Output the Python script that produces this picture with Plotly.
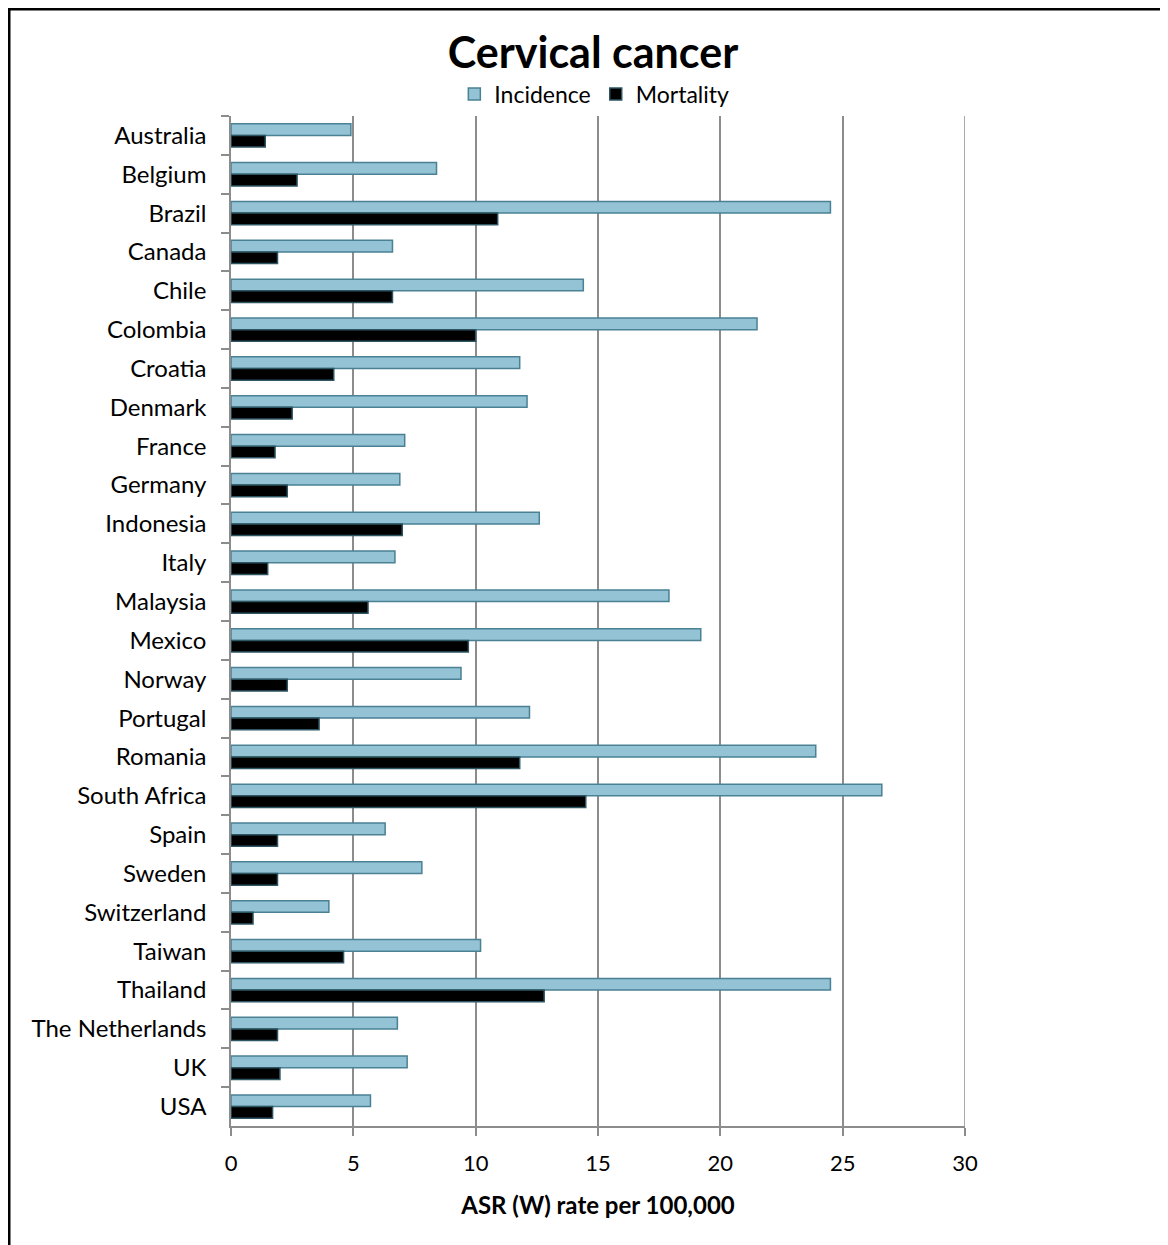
import plotly.graph_objects as go

countries = ["Australia", "Belgium", "Brazil", "Canada", "Chile", "Colombia", "Croatia",
             "Denmark", "France", "Germany", "Indonesia", "Italy", "Malaysia", "Mexico",
             "Norway", "Portugal", "Romania", "South Africa", "Spain", "Sweden",
             "Switzerland", "Taiwan", "Thailand", "The Netherlands", "UK", "USA"]
incidence = [4.9, 8.4, 24.5, 6.6, 14.4, 21.5, 11.8, 12.1, 7.1, 6.9, 12.6, 6.7, 17.9, 19.2,
             9.4, 12.2, 23.9, 26.6, 6.3, 7.8, 4.0, 10.2, 24.5, 6.8, 7.2, 5.7]
mortality = [1.4, 2.7, 10.9, 1.9, 6.6, 10.0, 4.2, 2.5, 1.8, 2.3, 7.0, 1.5, 5.6, 9.7,
             2.3, 3.6, 11.8, 14.5, 1.9, 1.9, 0.9, 4.6, 12.8, 1.9, 2.0, 1.7]
x_ticks = [0, 5, 10, 15, 20, 25, 30]

FONT = "Lato"
W, H = 1160, 1237
L, T, PW, PH = 223, 108, 734, 1010

fig = go.Figure()
fig.add_trace(go.Bar(
    y=countries, x=incidence, orientation="h", name="Incidence",
    marker=dict(color="#93C3D4", line=dict(color="#4A8194", width=1.5)),
))
fig.add_trace(go.Bar(
    y=countries, x=mortality, orientation="h", name="Mortality",
    marker=dict(color="#000000", line=dict(color="#2E5562", width=1.5)),
))

fig.update_layout(
    width=W, height=H,
    paper_bgcolor="white", plot_bgcolor="white",
    margin=dict(l=L, r=W - L - PW, t=T, b=H - T - PH, autoexpand=False),
    barmode="group", bargap=0.4, bargroupgap=0,
    font=dict(family=FONT, color="#000000"),
    title=dict(text="<b>Cervical cancer</b>", x=(582 + 3) / W, xanchor="center",
               y=1 - 45 / H, yanchor="middle",
               font=dict(family=FONT, size=43, color="#000000")),
    legend=dict(orientation="h", x=0.495, xanchor="center", y=1 + 22 / PH, yanchor="middle",
                font=dict(family=FONT, size=23, color="#000000"),
                itemwidth=30, tracegroupgap=0, bgcolor="rgba(0,0,0,0)",
                traceorder="normal"),
    showlegend=True,
    xaxis=dict(
        range=[0, 30], tickvals=x_ticks, ticktext=[str(v) for v in x_ticks],
        showgrid=True, gridcolor="#8C8C8C", gridwidth=1.5,
        zeroline=False, showline=True, linecolor="#8C8C8C", linewidth=1.5,
        ticks="outside", ticklen=8, tickcolor="#8C8C8C", tickwidth=1.5,
        tickfont=dict(family=FONT, size=22, color="#000000"),
        ticklabelstandoff=9,
        title=dict(text="<b>ASR (W) rate per 100,000</b>", standoff=22,
                   font=dict(family=FONT, size=24, color="#000000")),
        fixedrange=True,
    ),
    yaxis=dict(
        categoryorder="array", categoryarray=countries, autorange="reversed",
        showgrid=False, zeroline=False, showline=True, linecolor="#8C8C8C", linewidth=1.5,
        ticks="outside", tickson="boundaries", ticklen=8, tickcolor="#8C8C8C", tickwidth=1.5,
        tickfont=dict(family=FONT, size=24, color="#000000"),
        ticklabelstandoff=18,
        fixedrange=True,
    ),
)

# gridline at the right end of the axis range
fig.add_shape(type="line", xref="x", yref="paper", x0=30, x1=30, y0=0, y1=1,
              line=dict(color="#8C8C8C", width=1.5), layer="below")

# outer frame of the picture
fig.add_shape(type="rect", xref="paper", yref="paper",
              x0=(1 - L) / PW, x1=(W + 10 - L) / PW,
              y0=(T + PH - H - 10) / PH, y1=(T + PH - 1) / PH,
              line=dict(color="#000000", width=3), fillcolor="rgba(0,0,0,0)", layer="below")

fig.write_html("out.html")
